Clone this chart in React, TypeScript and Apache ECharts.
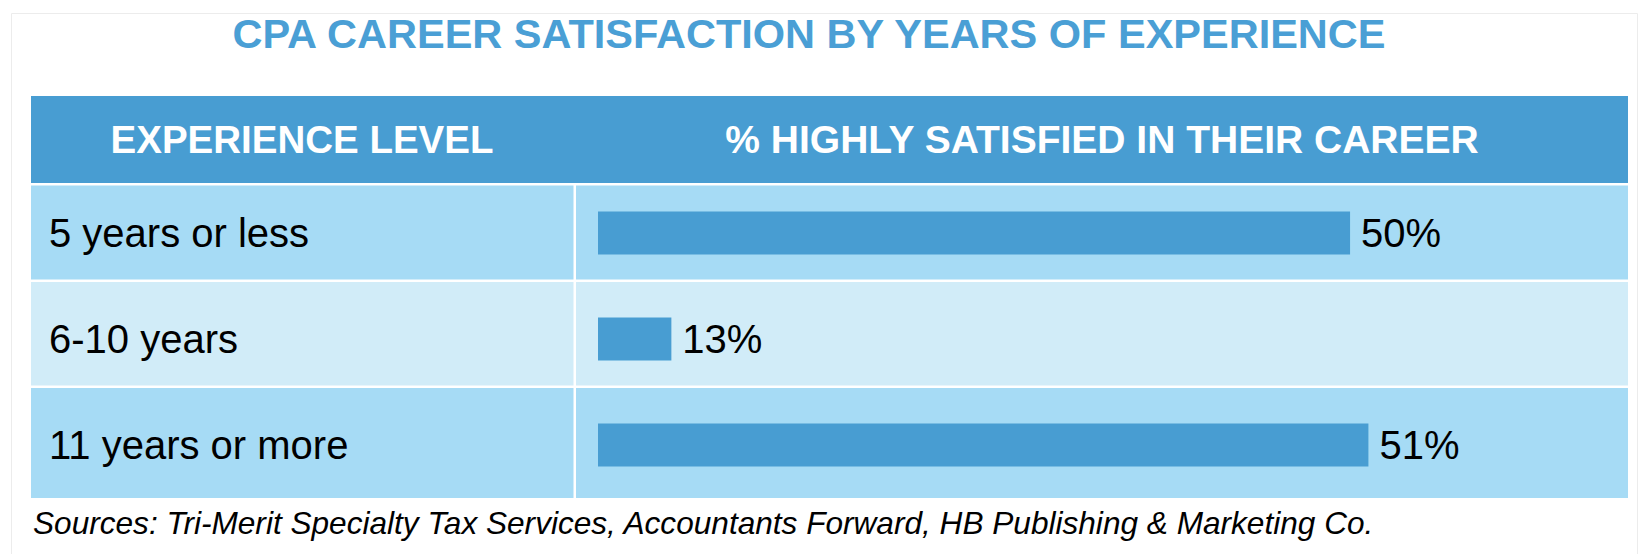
import React, { useEffect, useRef } from "react";
import * as echarts from "echarts";

const TITLE = "CPA CAREER SATISFACTION BY YEARS OF EXPERIENCE";
const HEADERS = ["EXPERIENCE LEVEL", "% HIGHLY SATISFIED IN THEIR CAREER"];
const CATEGORIES = ["5 years or less", "6-10 years", "11 years or more"];
const VALUES = [50, 13, 51];
const SOURCE =
  "Sources: Tri-Merit Specialty Tax Services, Accountants Forward, HB Publishing & Marketing Co.";

const BLUE = "#489dd2";
const ROW_DARK = "#a6dbf5";
const ROW_LIGHT = "#d1ecf8";
const FONT = "'Liberation Sans', Arial, sans-serif";

export default function App() {
  const ref = useRef<HTMLDivElement>(null);
  useEffect(() => {
    if (!ref.current) return;
    const chart = echarts.init(ref.current, null, { renderer: "svg" });
    const rows = [
      { y: 185.5, h: 94, c: ROW_DARK },
      { y: 282, h: 103.5, c: ROW_LIGHT },
      { y: 388, h: 110, c: ROW_DARK },
    ];
    const graphics: any[] = [
      {
        type: "rect",
        shape: { x: 11.5, y: 13.5, width: 1626, height: 600 },
        style: { fill: "#ffffff", stroke: "#ececec", lineWidth: 1 },
        z: -10,
      },
      {
        type: "rect",
        shape: { x: 31, y: 96, width: 1597, height: 87 },
        style: { fill: BLUE },
        z: -5,
      },
      {
        type: "text",
        x: 809,
        y: 33.5,
        style: {
          text: TITLE,
          fill: "#4a9fd5",
          font: `bold 41.5px ${FONT}`,
          textAlign: "center",
          textVerticalAlign: "middle",
        },
      },
      {
        type: "text",
        x: 302,
        y: 139,
        style: {
          text: HEADERS[0],
          fill: "#ffffff",
          font: `bold 38.5px ${FONT}`,
          textAlign: "center",
          textVerticalAlign: "middle",
        },
      },
      {
        type: "text",
        x: 1102,
        y: 139,
        style: {
          text: HEADERS[1],
          fill: "#ffffff",
          font: `bold 39px ${FONT}`,
          textAlign: "center",
          textVerticalAlign: "middle",
        },
      },
      {
        type: "text",
        x: 33,
        y: 523,
        style: {
          text: SOURCE,
          fill: "#000000",
          font: `italic 31.6px ${FONT}`,
          textAlign: "left",
          textVerticalAlign: "middle",
        },
      },
    ];
    rows.forEach((r) => {
      graphics.push({
        type: "rect",
        shape: { x: 31, y: r.y, width: 542.5, height: r.h },
        style: { fill: r.c },
        z: -5,
      });
      graphics.push({
        type: "rect",
        shape: { x: 576, y: r.y, width: 1052, height: r.h },
        style: { fill: r.c },
        z: -5,
      });
    });

    chart.setOption({
      animation: false,
      backgroundColor: "#ffffff",
      graphic: { elements: graphics },
      grid: { left: 598, right: 106.5, top: 180, bottom: 56, containLabel: false },
      xAxis: {
        type: "value",
        min: 9,
        max: 60,
        show: false,
        splitLine: { show: false },
      },
      yAxis: {
        type: "category",
        data: CATEGORIES,
        inverse: true,
        axisLine: { show: false },
        axisTick: { show: false },
        splitLine: { show: false },
        axisLabel: {
          show: true,
          margin: 549,
          align: "left",
          verticalAlign: "middle",
          color: "#000000",
          fontSize: 40,
          fontFamily: FONT,
        },
      },
      series: [
        {
          type: "bar",
          data: VALUES,
          barWidth: 43,
          itemStyle: { color: BLUE },
          label: {
            show: true,
            position: "right",
            distance: 11,
            formatter: "{c}%",
            color: "#000000",
            fontSize: 40,
            fontFamily: FONT,
          },
          z: 5,
        },
      ],
    });
    return () => chart.dispose();
  }, []);
  return (
    <div
      ref={ref}
      style={{ position: "absolute", left: 0, top: 0, width: 1640, height: 554 }}
    />
  );
}
